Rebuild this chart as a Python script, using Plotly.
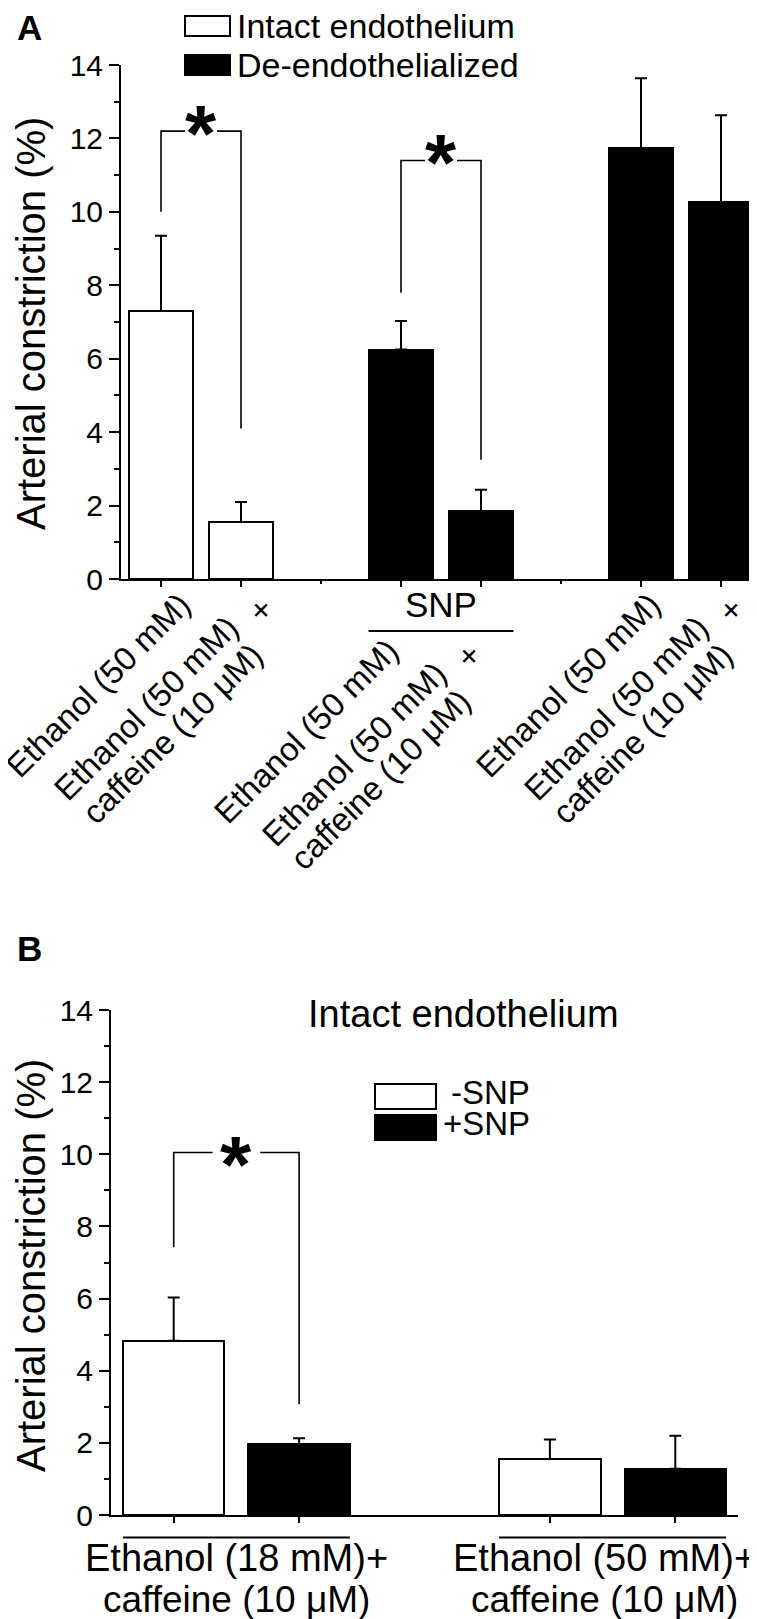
import math
import plotly.graph_objects as go

FONT = "Liberation Sans, Arial, Helvetica, sans-serif"
W, H = 757, 1619

# ---------------- Panel A data ----------------
a_series = ["Intact endothelium", "De-endothelialized"]
a_conditions = ["Ethanol (50 mM)", "Ethanol (50 mM) + caffeine (10 \u03bcM)"]
a_group_titles = ["", "SNP", ""]
a_group_series = [0, 1, 1]                 # series (fill) used by each group
a_values = [[7.3, 1.55], [6.25, 1.85], [11.73, 10.27]]
a_errors = [[2.05, 0.55], [0.78, 0.58], [1.91, 2.36]]
# significance: (group, left foot, bracket top, right foot)
a_sig = [(0, 10.0, 12.2, 4.1), (1, 7.8, 11.4, 3.25)]
a_yticks = [0, 2, 4, 6, 8, 10, 12, 14]

# ---------------- Panel B data ----------------
b_series = ["-SNP", "+SNP"]
b_groups_line1 = ["Ethanol (18 mM)+", "Ethanol (50 mM)+"]
b_groups_line2 = ["caffeine (10 \u03bcM)", "caffeine (10 \u03bcM)"]
b_values = [[4.83, 1.97], [1.55, 1.28]]
b_errors = [[1.20, 0.16], [0.54, 0.92]]
b_sig = [(0, 7.42, 10.05, 3.07)]
b_title = "Intact endothelium"
b_yticks = [0, 2, 4, 6, 8, 10, 12, 14]

y_title = "Arterial constriction (%)"

# ---------------- styling / layout constants ----------------
FILLS = ["white", "black"]
BARW = 0.81
A_AXIS_PX = 571      # pixel row of panel A x axis
LAB_F = 33           # rotated label font size
LAB_ANG = 45
LAB_CORR = (-23, -21)  # empirical correction of rotated line placement (px)
# baseline-end offsets of rotated label lines, relative to (tick, axis) in px
OFF_SINGLE = (47, 47)
OFF_LINE1 = (15, 70)
OFF_LINE2 = (40, 97)
OFF_PLUS = (12, 29)          # centre of the raised '+'
GROUP_OFF = [(7, 2), (-25, 48), (-3, 2)]
B_LAB_SHIFT = [0, -8]

# Arial / Liberation Sans advance widths (em/1000) for text measuring
ADV = {" ": 278, "(": 333, ")": 333, "E": 667, "M": 833, "a": 556, "c": 500,
       "e": 556, "f": 278, "h": 556, "i": 222, "l": 222, "m": 833, "n": 556,
       "o": 556, "t": 278, "\u03bc": 576}


def text_w(s, f):
    return sum(ADV.get(ch, 556) for ch in s) / 1000.0 * f


def pos(g, i):
    return g * 3 + i + 1


def px(x):
    return x / W


def pys(y):
    return 1 - y / H


fig = go.Figure()

# ---- Panel A bars ----
for s in range(len(a_series)):
    xs, ys, es = [], [], []
    for g, vals in enumerate(a_values):
        if a_group_series[g] != s:
            continue
        for i, v in enumerate(vals):
            xs.append(pos(g, i))
            ys.append(v)
            es.append(a_errors[g][i])
    fig.add_trace(go.Bar(
        x=xs, y=ys, width=BARW, name=a_series[s], showlegend=False,
        marker=dict(color=FILLS[s], line=dict(color="black", width=2)),
        error_y=dict(type="data", array=es, arrayminus=[0] * len(es),
                     symmetric=False, color="black", thickness=2, width=6),
        xaxis="x", yaxis="y"))

# ---- Panel B bars ----
for s in range(len(b_series)):
    xs = [pos(g, s) for g in range(len(b_values))]
    ys = [b_values[g][s] for g in range(len(b_values))]
    es = [b_errors[g][s] for g in range(len(b_values))]
    fig.add_trace(go.Bar(
        x=xs, y=ys, width=BARW, name=b_series[s], showlegend=False,
        marker=dict(color=FILLS[s], line=dict(color="black", width=2)),
        error_y=dict(type="data", array=es, arrayminus=[0] * len(es),
                     symmetric=False, color="black", thickness=2, width=6),
        xaxis="x2", yaxis="y2"))

annotations = []
shapes = []


def add_sig(sig, xa, ya, gap, star_shift):
    for g, lf, top, rf in sig:
        xl, xr = pos(g, 0), pos(g, 1)
        mid = (xl + xr) / 2
        fig.add_trace(go.Scatter(
            x=[xl, xl, mid - gap, None, mid + gap, xr, xr],
            y=[lf, top, top, None, top, top, rf],
            mode="lines", line=dict(color="black", width=1.6),
            showlegend=False, hoverinfo="skip", xaxis=xa, yaxis=ya))
        annotations.append(dict(
            x=mid, y=top, xref=xa, yref=ya, text="<b>*</b>", showarrow=False,
            font=dict(family=FONT, size=80, color="black"),
            xanchor="center", yanchor="middle", yshift=star_shift))


add_sig(a_sig, "x", "y", 0.2, -2)
add_sig(b_sig, "x2", "y2", 0.19, -12)

# ---- Panel A rotated category labels ----
cth = math.cos(math.radians(LAB_ANG))
base_below_centre = 0.3465 * LAB_F


def rot_line(xval, text, be_dx, be_dy):
    """Rotated line whose baseline ends at (tick+be_dx, axis+be_dy); box rotates about its centre."""
    vx = text_w(text, LAB_F) / 2
    vy = base_below_centre
    cx = be_dx + LAB_CORR[0] - cth * (vx + vy)
    cy = A_AXIS_PX + be_dy + LAB_CORR[1] - cth * (vy - vx)
    annotations.append(dict(x=xval, xref="x", xshift=cx, y=pys(cy), yref="paper",
                            text=text, showarrow=False, textangle=-LAB_ANG,
                            xanchor="center", yanchor="middle",
                            font=dict(family=FONT, size=LAB_F, color="black")))


for g in range(len(a_values)):
    gx, gy = GROUP_OFF[g]
    for i, cond in enumerate(a_conditions):
        xv = pos(g, i)
        parts = cond.split(" + ")
        if len(parts) == 1:
            rot_line(xv, parts[0], OFF_SINGLE[0] + gx, OFF_SINGLE[1] + gy)
        else:
            rot_line(xv, parts[0], OFF_LINE1[0] + gx, OFF_LINE1[1] + gy)
            rot_line(xv, parts[1], OFF_LINE2[0] + gx, OFF_LINE2[1] + gy)
            annotations.append(dict(x=xv, xref="x", xshift=OFF_PLUS[0] + gx,
                                    y=pys(A_AXIS_PX + OFF_PLUS[1] + gy), yref="paper",
                                    text="+", showarrow=False, textangle=-LAB_ANG,
                                    xanchor="center", yanchor="middle",
                                    font=dict(family=FONT, size=LAB_F, color="black")))

# ---- Panel A group title (SNP) with underline ----
for g, t in enumerate(a_group_titles):
    if not t:
        continue
    annotations.append(dict(x=(pos(g, 0) + pos(g, 1)) / 2, y=pys(596), xref="x", yref="paper",
                            text=t, showarrow=False, xanchor="center", yanchor="middle",
                            font=dict(family=FONT, size=35, color="black")))
    shapes.append(dict(type="line", xref="x", yref="paper",
                       x0=pos(g, 0) - BARW / 2, x1=pos(g, 1) + BARW / 2,
                       y0=pys(623), y1=pys(623), line=dict(color="black", width=2)))

# ---- Panel B group labels with underline ----
for g in range(len(b_groups_line1)):
    c = (pos(g, 0) + pos(g, 1)) / 2
    annotations.append(dict(x=c, y=pys(1550), xref="x2", yref="paper", text=b_groups_line1[g],
                            showarrow=False, xanchor="center", yanchor="middle",
                            xshift=B_LAB_SHIFT[g],
                            font=dict(family=FONT, size=38, color="black")))
    annotations.append(dict(x=c, y=pys(1591), xref="x2", yref="paper", text=b_groups_line2[g],
                            showarrow=False, xanchor="center", yanchor="middle",
                            xshift=B_LAB_SHIFT[g],
                            font=dict(family=FONT, size=37, color="black")))
    shapes.append(dict(type="line", xref="x2", yref="paper",
                       x0=pos(g, 0) - BARW / 2, x1=pos(g, 1) + BARW / 2,
                       y0=pys(1529.5), y1=pys(1529.5), line=dict(color="black", width=2)))

# ---- Legend A (manual) ----
for k, (y0, y1) in enumerate([(8, 28), (47, 67)]):
    shapes.append(dict(type="rect", xref="paper", yref="paper", x0=px(177), x1=px(222),
                       y0=pys(y1), y1=pys(y0), fillcolor=FILLS[k],
                       line=dict(color="black", width=2)))
    annotations.append(dict(x=px(227), y=pys((y0 + y1) / 2), xref="paper", yref="paper",
                            text=a_series[k], showarrow=False, xanchor="left", yanchor="middle",
                            font=dict(family=FONT, size=34, color="black")))

# ---- Legend B (manual) ----
for k, (y0, y1) in enumerate([(1076, 1101), (1107, 1132)]):
    shapes.append(dict(type="rect", xref="paper", yref="paper", x0=px(367), x1=px(428),
                       y0=pys(y1), y1=pys(y0), fillcolor=FILLS[k],
                       line=dict(color="black", width=2)))
    annotations.append(dict(x=px(524), y=pys((y0 + y1) / 2 - 4), xref="paper", yref="paper",
                            text=b_series[k], showarrow=False, xanchor="right", yanchor="middle",
                            font=dict(family=FONT, size=33, color="black")))

# ---- Panel B title ----
annotations.append(dict(x=px(455), y=pys(1006), xref="paper", yref="paper", text=b_title,
                        showarrow=False, xanchor="center", yanchor="middle",
                        font=dict(family=FONT, size=38, color="black")))

# ---- Panel letters ----
annotations.append(dict(x=px(21), y=pys(20), xref="paper", yref="paper", text="<b>A</b>",
                        showarrow=False, xanchor="center", yanchor="middle",
                        font=dict(family=FONT, size=35, color="black")))
annotations.append(dict(x=px(21), y=pys(940), xref="paper", yref="paper", text="<b>B</b>",
                        showarrow=False, xanchor="center", yanchor="middle",
                        font=dict(family=FONT, size=35, color="black")))

# ---- Y titles ----
for yc in (316, 1258):
    annotations.append(dict(x=px(23), y=pys(yc), xref="paper", yref="paper", text=y_title,
                            showarrow=False, textangle=-90, xanchor="center", yanchor="middle",
                            font=dict(family=FONT, size=40, color="black")))

a_tickvals = [pos(g, i) for g in range(len(a_values)) for i in range(2)]
a_gaps = [g * 3 for g in range(1, len(a_values))]

axis_common = dict(showline=True, linecolor="black", linewidth=2, showgrid=False,
                   zeroline=False, ticks="outside", tickcolor="black", tickwidth=2,
                   automargin=False)

fig.update_layout(
    template="none",
    width=W, height=H, margin=dict(l=0, r=0, t=0, b=0, autoexpand=False),
    paper_bgcolor="white", plot_bgcolor="white", bargap=0,
    font=dict(family=FONT, color="black"),
    xaxis=dict(domain=[px(113), px(753)], range=[0.5, 8.5], anchor="y",
               tickmode="array", tickvals=a_tickvals, showticklabels=False, ticklen=6,
               minor=dict(tickmode="array", tickvals=a_gaps, ticks="outside", ticklen=3,
                          tickwidth=2, tickcolor="black"),
               **axis_common),
    yaxis=dict(domain=[pys(A_AXIS_PX), pys(57)], range=[0, 14], anchor="x",
               tickmode="array", tickvals=a_yticks, ticklen=10,
               tickfont=dict(size=30, family=FONT),
               minor=dict(dtick=1, ticks="outside", ticklen=5, tickwidth=2, tickcolor="black"),
               **axis_common),
    xaxis2=dict(domain=[px(103), px(730)], range=[0.5, 5.5], anchor="y2",
                tickmode="array", tickvals=[pos(g, i) for g in range(len(b_values)) for i in range(2)],
                showticklabels=False, ticklen=6, **axis_common),
    yaxis2=dict(domain=[pys(1507), pys(1002)], range=[0, 14], anchor="x2",
                tickmode="array", tickvals=b_yticks, ticklen=10,
                tickfont=dict(size=30, family=FONT),
                minor=dict(dtick=1, ticks="outside", ticklen=5, tickwidth=2, tickcolor="black"),
                **axis_common),
    annotations=annotations, shapes=shapes,
)

fig.write_html("out.html")
